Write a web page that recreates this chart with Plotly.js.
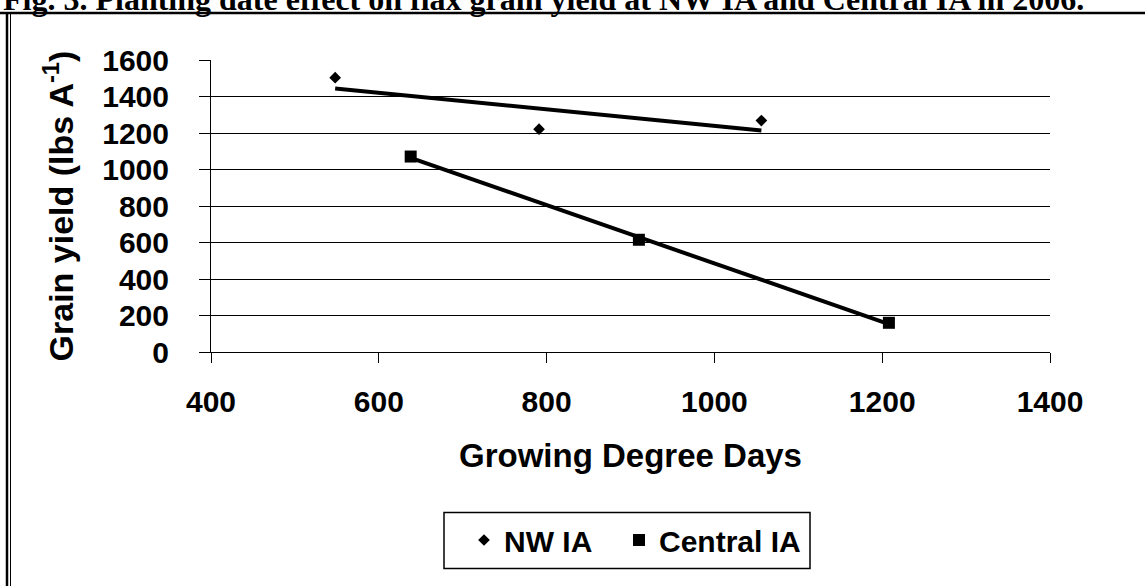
<!DOCTYPE html>
<html>
<head>
<meta charset="utf-8">
<script src="https://cdn.plot.ly/plotly-3.0.1.min.js"></script>
<style>
html,body{margin:0;padding:0;background:#fff;}
#chart{width:1145px;height:586px;}
</style>
</head>
<body>
<div id="chart"></div>
<script>
// ---- data ----
const nwGDD = [548, 791, 1056];
const nwYield = [1503, 1221, 1268];
const centralGDD = [638, 910, 1208];
const centralYield = [1071, 615, 160];
const seriesNames = ["NW IA", "Central IA"];
const xTicks = [400, 600, 800, 1000, 1200, 1400];
const yTicks = [0, 200, 400, 600, 800, 1000, 1200, 1400, 1600];
const titleText = "Fig. 3. Planting date effect on flax grain yield at NW IA and Central IA in 2006.";
const xTitle = "Growing Degree Days";
const yTitle = "Grain yield (lbs A<sup>-1</sup>)";

// least-squares linear trend from the data
function trend(xs, ys) {
  const n = xs.length;
  const mx = xs.reduce((a, b) => a + b, 0) / n;
  const my = ys.reduce((a, b) => a + b, 0) / n;
  let sxy = 0, sxx = 0;
  for (let i = 0; i < n; i++) { sxy += (xs[i] - mx) * (ys[i] - my); sxx += (xs[i] - mx) ** 2; }
  const b = sxy / sxx, a = my - b * mx;
  const x0 = Math.min(...xs), x1 = Math.max(...xs);
  return { x: [x0, x1], y: [a + b * x0, a + b * x1] };
}
const nwT = trend(nwGDD, nwYield);
const ceT = trend(centralGDD, centralYield);

const W = 1145, H = 586;
const M = { l: 211, r: 95, t: 60, b: 234 };
const PW = W - M.l - M.r, PH = H - M.t - M.b;
const xp = px => (px - M.l) / PW;
const yp = py => (H - M.b - py) / PH;

const sans = "Liberation Sans, Arial, sans-serif";
const legFont = { family: sans, size: 30, weight: "bold", color: "#000" };

const traces = [
  { x: nwT.x, y: nwT.y, mode: "lines", line: { color: "#000", width: 4 }, showlegend: false, hoverinfo: "skip" },
  { x: ceT.x, y: ceT.y, mode: "lines", line: { color: "#000", width: 4 }, showlegend: false, hoverinfo: "skip" },
  { x: nwGDD, y: nwYield, name: seriesNames[0], mode: "markers", type: "scatter", legend: "legend",
    marker: { symbol: "diamond", size: 9, color: "#000" } },
  { x: centralGDD, y: centralYield, name: seriesNames[1], mode: "markers", type: "scatter", legend: "legend2",
    marker: { symbol: "square", size: 12, color: "#000" } }
];

const layout = {
  width: W, height: H,
  margin: M,
  paper_bgcolor: "#fff", plot_bgcolor: "#fff",
  showlegend: true,
  font: { family: sans, color: "#000" },
  xaxis: {
    range: [400, 1400], tickvals: xTicks, ticktext: xTicks.map(String),
    showgrid: false, zeroline: false,
    showline: true, linecolor: "#000", linewidth: 1,
    ticks: "outside", ticklen: 10, tickcolor: "#000", tickwidth: 1,
    tickfont: { family: sans, size: 30, weight: "bold", color: "#000" },
    ticklabelstandoff: 13,
    title: { text: xTitle, font: { family: sans, size: 33, weight: "bold", color: "#000" }, standoff: 26 },
    fixedrange: true
  },
  yaxis: {
    range: [0, 1600], tickvals: yTicks, ticktext: yTicks.map(String),
    showgrid: true, gridcolor: "#000", gridwidth: 1, zeroline: false,
    showline: true, linecolor: "#000", linewidth: 1,
    ticks: "outside", ticklen: 11, tickcolor: "#000", tickwidth: 1,
    tickfont: { family: sans, size: 30, weight: "bold", color: "#000" },
    ticklabelstandoff: 24,
    title: { text: yTitle, font: { family: sans, size: 34, weight: "bold", color: "#000" }, standoff: 18 },
    fixedrange: true
  },
  legend: {
    orientation: "h", x: xp(464), xanchor: "left", y: yp(514), yanchor: "top",
    borderwidth: 0, bgcolor: "rgba(0,0,0,0)", font: legFont
  },
  legend2: {
    orientation: "h", x: xp(619), xanchor: "left", y: yp(514), yanchor: "top",
    borderwidth: 0, bgcolor: "rgba(0,0,0,0)", font: legFont
  },
  annotations: [
    { xref: "paper", yref: "paper", x: xp(1), y: yp(-1), xanchor: "left", yanchor: "middle",
      text: titleText, showarrow: false,
      font: { family: "Liberation Serif, Times New Roman, serif", size: 32, weight: "bold", color: "#000" } }
  ],
  shapes: [
    { type: "line", xref: "paper", yref: "paper", x0: xp(0), x1: xp(W), y0: yp(13), y1: yp(13), line: { color: "#000", width: 2.5 } },
    { type: "line", xref: "paper", yref: "paper", x0: xp(7), x1: xp(7), y0: yp(12), y1: yp(H + 2), line: { color: "#000", width: 2.5 } },
    { type: "line", xref: "paper", yref: "paper", x0: xp(10.5), x1: xp(10.5), y0: yp(14), y1: yp(H + 2), line: { color: "#000", width: 1 } },
    { type: "rect", xref: "paper", yref: "paper", x0: xp(444), x1: xp(810), y0: yp(512.5), y1: yp(568.5), line: { color: "#000", width: 1.5 }, fillcolor: "rgba(0,0,0,0)", layer: "above" }
  ]
};

Plotly.newPlot("chart", traces, layout, { displayModeBar: false, staticPlot: true });
</script>
</body>
</html>
